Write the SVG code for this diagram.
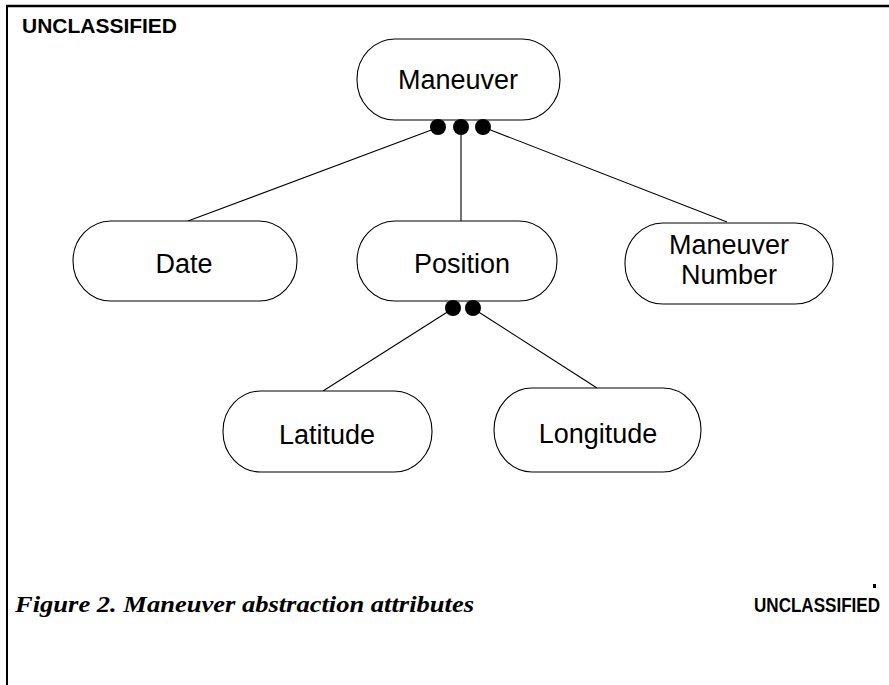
<svg xmlns="http://www.w3.org/2000/svg" width="889" height="685" viewBox="0 0 889 685">
<style>
.node{fill:#fff;stroke:#000;stroke-width:1.1}
.lbl{font-family:"Liberation Sans",Arial,sans-serif;font-size:27px;fill:#000;text-anchor:middle}
.conn line{stroke:#000;stroke-width:1.1}
.dot{fill:#000}
.cls{font-family:"Liberation Sans",Arial,sans-serif;font-weight:bold;font-size:20px;fill:#000}
</style>
<rect width="889" height="685" fill="#fff"/>
<g id="frame" stroke="#000" fill="none">
<line x1="6" y1="6" x2="889" y2="6" stroke-width="2.5"/>
<line x1="7" y1="5" x2="7" y2="685" stroke-width="2"/>
</g>
<text class="cls" x="22" y="33" textLength="155" lengthAdjust="spacingAndGlyphs">UNCLASSIFIED</text>
<g id="connectors" class="conn">
<line x1="434" y1="129" x2="188" y2="221"/>
<line x1="461" y1="130" x2="461" y2="221"/>
<line x1="488" y1="129" x2="727" y2="222"/>
<line x1="449" y1="311" x2="323" y2="391"/>
<line x1="477" y1="311" x2="597" y2="388"/>
</g>
<g id="node-maneuver">
<rect class="node" x="357" y="39" width="203" height="81" rx="38" ry="40"/>
<text class="lbl" x="458" y="89">Maneuver</text>
<circle class="dot" cx="438" cy="127" r="8"/>
<circle class="dot" cx="461" cy="127" r="8"/>
<circle class="dot" cx="483" cy="127" r="8"/>
</g>
<g id="node-date">
<rect class="node" x="73" y="221" width="224" height="80" rx="38" ry="40"/>
<text class="lbl" x="184" y="273">Date</text>
</g>
<g id="node-position">
<rect class="node" x="357" y="221" width="200" height="80" rx="38" ry="40"/>
<text class="lbl" x="462" y="273">Position</text>
<circle class="dot" cx="453" cy="308" r="8"/>
<circle class="dot" cx="473" cy="308" r="8"/>
</g>
<g id="node-maneuver-number">
<rect class="node" x="625" y="223" width="208" height="81" rx="38" ry="40"/>
<text class="lbl" x="729" y="254">Maneuver</text>
<text class="lbl" x="729" y="284">Number</text>
</g>
<g id="node-latitude">
<rect class="node" x="223" y="391" width="209" height="81" rx="38" ry="40"/>
<text class="lbl" x="327" y="444">Latitude</text>
</g>
<g id="node-longitude">
<rect class="node" x="494" y="388" width="207" height="84" rx="38" ry="42"/>
<text class="lbl" x="598" y="443">Longitude</text>
</g>
<text x="15" y="612" font-family="'Liberation Serif','Times New Roman',serif" font-style="italic" font-weight="bold" font-size="24" textLength="459" lengthAdjust="spacingAndGlyphs">Figure 2. Maneuver abstraction attributes</text>
<rect x="873" y="584" width="3" height="4" fill="#000"/>
<text class="cls" x="754" y="612" font-size="17" textLength="126" lengthAdjust="spacingAndGlyphs">UNCLASSIFIED</text>
</svg>
